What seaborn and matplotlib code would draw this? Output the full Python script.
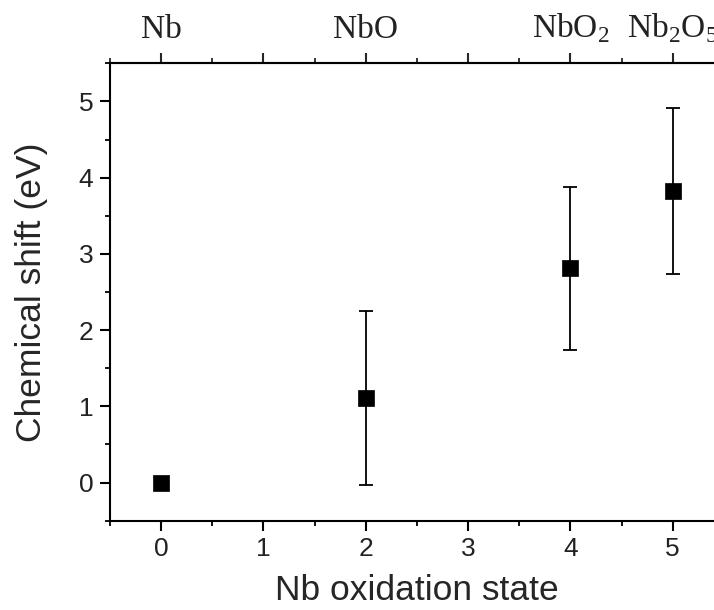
import matplotlib
matplotlib.use("Agg")
import matplotlib.pyplot as plt
import seaborn as sns
import pandas as pd

# Nb 3d chemical shift versus oxidation state
oxidation_state = [0, 2, 4, 5]
chemical_shift = [0.0, 1.11, 2.81, 3.82]
shift_error = [0.0, 1.14, 1.07, 1.09]
compound_labels = ["Nb", r"NbO", r"NbO$_\mathregular{2}$", r"Nb$_\mathregular{2}$O$_\mathregular{5}$"]
x_ticks = [0, 1, 2, 3, 4, 5]
y_ticks = [0, 1, 2, 3, 4, 5]

df = pd.DataFrame({"state": oxidation_state, "shift": chemical_shift, "err": shift_error})

sns.set_theme(style="ticks")
plt.rcParams["font.family"] = ["Liberation Sans", "DejaVu Sans"]

fig = plt.figure(figsize=(7.14, 6.10), dpi=100)
ax = fig.add_axes([0.1541, 0.1464, 0.8597, 0.7498])

# error bars (only where an uncertainty exists)
eb = df[df["err"] > 0]
ax.errorbar(eb["state"], eb["shift"], yerr=eb["err"], fmt="none",
            ecolor="black", elinewidth=1.3, capsize=5, capthick=1.3, zorder=2)
sns.scatterplot(data=df, x="state", y="shift", marker="s", s=120,
                color="black", edgecolor="black", linewidth=0.5, ax=ax, zorder=3)

ax.set_xlim(-0.5, 5.5)
ax.set_ylim(-0.5, 5.5)
ax.set_xticks(x_ticks)
ax.set_yticks(y_ticks)
ax.set_xticks([v + 0.5 for v in [-1] + x_ticks], minor=True)
ax.set_yticks([v + 0.5 for v in [-1] + y_ticks], minor=True)
ax.set_xlabel("Nb oxidation state", fontsize=25.5, labelpad=9)
ax.set_ylabel("Chemical shift (eV)", fontsize=25.5, labelpad=22)

for side in ["left", "bottom", "top"]:
    ax.spines[side].set_linewidth(1.5)
    ax.spines[side].set_color("black")
ax.spines["right"].set_visible(False)

ax.tick_params(axis="both", which="major", direction="out", length=7, width=1.5,
               labelsize=19, color="black", labelcolor="#222222", pad=5)
ax.tick_params(axis="both", which="minor", direction="out", length=3.5, width=1.3,
               color="black")

# compound names on the top axis
top = ax.secondary_xaxis("top")
top.set_xticks(x_ticks)
top.set_xticks([v + 0.5 for v in [-1] + x_ticks], minor=True)
label_map = dict(zip(oxidation_state, compound_labels))
top.set_xticklabels([label_map.get(v, "") for v in x_ticks])
top.tick_params(axis="x", which="major", direction="out", length=7, width=1.5, pad=6)
top.tick_params(axis="x", which="minor", direction="out", length=3.5, width=1.3)
for lbl in top.get_xticklabels():
    lbl.set_family(["Liberation Serif", "DejaVu Serif"])
    lbl.set_fontsize(24)
    lbl.set_color("#222222")
top.spines["top"].set_linewidth(1.5)

fig.savefig("out.png", dpi=100)
